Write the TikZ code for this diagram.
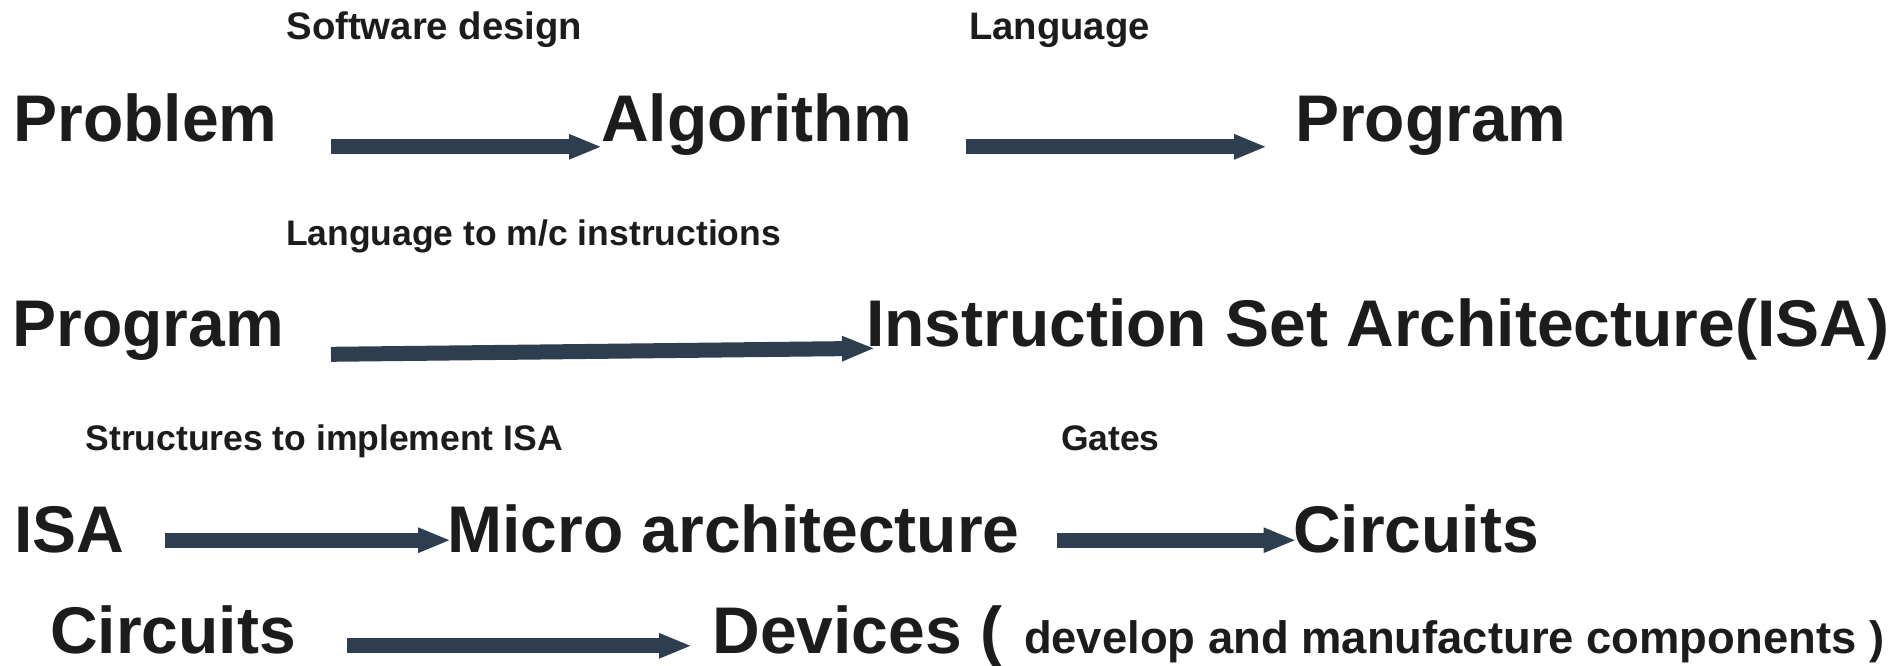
\documentclass[tikz,border=0pt]{standalone}
\usepackage{fontspec}
\setmainfont{Liberation Sans}
\usetikzlibrary{arrows.meta}
\definecolor{txt}{HTML}{1C1C1C}
\definecolor{arr}{HTML}{2C3E50}
\tikzset{
  big/.style={anchor=base west, inner sep=0pt, outer sep=0pt, text=txt, font=\fontsize{66}{72}\selectfont\bfseries},
  lbl/.style={anchor=base west, inner sep=0pt, outer sep=0pt, text=txt, font=\fontsize{35.5}{40}\selectfont\bfseries},
  lbltop/.style={lbl, font=\fontsize{38.3}{42}\selectfont\bfseries},
  mid/.style={anchor=base west, inner sep=0pt, outer sep=0pt, text=txt, font=\fontsize{45.4}{50}\selectfont\bfseries},
  fatarrow/.style={draw=arr, line width=15pt, -{Triangle[length=33pt,width=23pt]}}
}
\begin{document}
\begin{tikzpicture}[x=1pt,y=-1pt]
\useasboundingbox[fill=white] (0,0) rectangle (1900,665);
% labels
\node[lbltop] (l1) at (286.5,39.3) {Software design};
\node[lbltop] (l2) at (969,39.3) {Language};
\node[lbl] (l3) at (286,245) {Language to m/c instructions};
\node[lbl] (l4) at (85.5,450) {Structures to implement ISA};
\node[lbl] (l5) at (1061,450) {Gates};
% row 1
\node[big] (problem) at (13.5,141.7) {Problem};
\node[big] (algorithm) at (601,141.7) {Algorithm};
\node[big] (program1) at (1295,141.7) {Program};
% row 2
\node[big] (program2) at (12.5,346) {Program};
\node[big] (isa1) at (866,346) {Instruction Set Architecture(ISA)};
% row 3
\node[big] (isa2) at (14,552.7) {ISA};
\node[big] (micro) at (447.5,552.7) {Micro architecture};
\node[big] (circ1) at (1293,552.7) {Circuits};
% row 4
\node[big] (circ2) at (50,653.3) {Circuits};
\node[big] (devices) at (712.5,653.3) {Devices (};
\node[mid] (devnote) at (1024,653.3) {develop and manufacture components )};
% arrow ends
\coordinate (a1s) at (331,146.8);  \coordinate (a1e) at (602,146.8);
\coordinate (a2s) at (966,146.8);  \coordinate (a2e) at (1267,146.8);
\coordinate (a3s) at (331,354.3);  \coordinate (a3e) at (875,348.3);
\coordinate (a4s) at (165,540.2);  \coordinate (a4e) at (451,540.2);
\coordinate (a5s) at (1057,540.2); \coordinate (a5e) at (1296.5,540.2);
\coordinate (a6s) at (346.7,645.8); \coordinate (a6e) at (692,645.8);
\draw[fatarrow] (a1s) -- (a1e);
\draw[fatarrow] (a2s) -- (a2e);
\draw[fatarrow] (a3s) -- (a3e);
\draw[fatarrow] (a4s) -- (a4e);
\draw[fatarrow] (a5s) -- (a5e);
\draw[fatarrow] (a6s) -- (a6e);
\end{tikzpicture}
\end{document}
